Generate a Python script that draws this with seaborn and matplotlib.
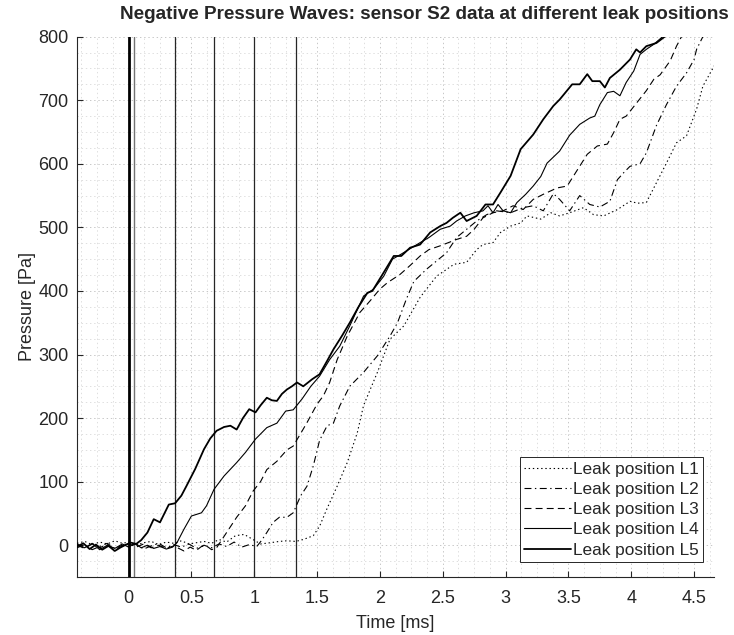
import numpy as np
import pandas as pd
import matplotlib
matplotlib.use("Agg")
import matplotlib.pyplot as plt
from matplotlib.ticker import MultipleLocator, FuncFormatter
import seaborn as sns

# Sensor S2 pressure traces [ms, Pa] for the five leak positions
t_l1 = [-0.41, -0.35, -0.29, -0.23, -0.17, -0.11, -0.05, 0.0, 0.06, 0.12, 0.18, 0.24, 0.30, 0.36,
        0.42, 0.48, 0.54, 0.60, 0.66, 0.72, 0.78, 0.85, 0.92, 0.99, 1.05, 1.13, 1.20, 1.26, 1.33,
        1.39, 1.47, 1.52, 1.58, 1.66, 1.74, 1.82, 1.87, 1.98, 2.08, 2.19, 2.32, 2.45, 2.59, 2.69,
        2.77, 2.82, 2.90, 2.96, 3.04, 3.12, 3.17, 3.28, 3.36, 3.43, 3.51, 3.62, 3.70, 3.78, 3.89,
        3.99, 4.05, 4.12, 4.20, 4.28, 4.36, 4.44, 4.52, 4.57, 4.66]
p_l1 = [3, 6, 1, 5, 2, 7, 3, 5, 0, 4, 6, 1, 5, 3,
        7, 2, 4, 6, 3, 9, 5, 15, 17, 9, 2, 4, 6, 7, 6,
        9, 15, 30, 58, 93, 130, 177, 220, 272, 324, 345, 390, 423, 442, 445,
        465, 473, 476, 492, 502, 507, 518, 513, 523, 518, 523, 531, 520, 518, 528,
        541, 538, 539, 570, 601, 633, 644, 686, 722, 754]

t_l2 = [-0.41, -0.35, -0.29, -0.23, -0.17, -0.11, -0.05, 0.0, 0.06, 0.12, 0.18, 0.24, 0.30, 0.36,
        0.42, 0.48, 0.54, 0.60, 0.66, 0.72, 0.78, 0.84, 0.90, 0.96, 1.02, 1.06, 1.10, 1.15, 1.20,
        1.26, 1.31, 1.37, 1.42, 1.47, 1.52, 1.58, 1.63, 1.68, 1.76, 1.87, 1.98, 2.08, 2.14, 2.21,
        2.27, 2.37, 2.45, 2.53, 2.61, 2.69, 2.77, 2.85, 2.93, 3.04, 3.14, 3.22, 3.30, 3.38, 3.43,
        3.51, 3.59, 3.67, 3.75, 3.83, 3.89, 3.94, 3.99, 4.07, 4.12, 4.20, 4.28, 4.36, 4.44, 4.50,
        4.52, 4.57, 4.60]
p_l2 = [-4, 1, -7, -2, 3, -5, 0, -2, 2, -6, -1, 3, -4, 1,
        -3, 2, -5, 0, -4, 2, -2, 5, -3, 1, -2, 8, 20, 36, 44,
        44, 51, 78, 93, 125, 165, 188, 192, 219, 250, 272, 298, 329, 350, 387,
        415, 434, 447, 460, 484, 497, 510, 520, 526, 523, 531, 534, 526, 553, 544,
        526, 550, 536, 532, 541, 575, 586, 596, 600, 617, 660, 693, 722, 743, 764,
        780, 800, 815]

t_l3 = [-0.41, -0.35, -0.29, -0.23, -0.17, -0.11, -0.05, 0.0, 0.06, 0.12, 0.18, 0.24, 0.30, 0.36,
        0.44, 0.49, 0.54, 0.58, 0.62, 0.66, 0.70, 0.78, 0.86, 0.93, 0.99, 1.05, 1.10, 1.18, 1.26,
        1.31, 1.37, 1.42, 1.50, 1.55, 1.60, 1.66, 1.74, 1.84, 1.92, 2.00, 2.06, 2.16, 2.24, 2.32,
        2.39, 2.48, 2.61, 2.69, 2.75, 2.82, 2.90, 2.98, 3.06, 3.14, 3.22, 3.30, 3.41, 3.49, 3.57,
        3.65, 3.73, 3.81, 3.86, 3.91, 3.96, 4.04, 4.12, 4.18, 4.23, 4.31, 4.36, 4.40, 4.44]
p_l3 = [0, -5, 2, -4, 1, -6, -2, 3, -3, 2, -4, 0, -5, -1,
        -9, -3, -8, -2, -1, -7, -4, 20, 44, 62, 85, 100, 119, 132, 150,
        156, 176, 193, 222, 235, 256, 292, 329, 366, 384, 403, 413, 426, 440, 455,
        465, 471, 481, 486, 497, 515, 523, 526, 534, 528, 544, 552, 562, 565, 590,
        615, 628, 631, 649, 670, 675, 695, 715, 733, 740, 762, 785, 800, 815]

t_l4 = [-0.41, -0.35, -0.29, -0.23, -0.17, -0.11, -0.05, 0.0, 0.05, 0.10, 0.15, 0.20, 0.25, 0.30,
        0.35, 0.385, 0.44, 0.50, 0.58, 0.62, 0.68, 0.76, 0.86, 0.93, 1.01, 1.10, 1.18, 1.25, 1.31,
        1.38, 1.45, 1.52, 1.60, 1.68, 1.76, 1.87, 1.95, 2.03, 2.10, 2.17, 2.27, 2.32, 2.39, 2.48,
        2.56, 2.61, 2.68, 2.75, 2.82, 2.86, 2.90, 2.94, 2.98, 3.04, 3.09, 3.16, 3.22, 3.28, 3.33,
        3.43, 3.51, 3.59, 3.67, 3.71, 3.75, 3.81, 3.86, 3.91, 3.96, 4.02, 4.07, 4.12, 4.18, 4.25,
        4.30]
p_l4 = [2, -4, 3, -7, 0, -5, 2, -3, 3, -4, 0, -5, -2, -6,
        -3, 4, 25, 46, 51, 62, 88, 109, 130, 146, 167, 185, 192, 211, 213,
        230, 250, 266, 292, 313, 345, 392, 403, 423, 450, 458, 470, 476, 484, 497,
        502, 510, 518, 523, 526, 534, 523, 536, 526, 523, 539, 552, 565, 580, 601,
        620, 645, 662, 672, 675, 693, 712, 714, 707, 728, 746, 772, 780, 788, 800,
        812]

t_l5 = [-0.41, -0.36, -0.31, -0.26, -0.21, -0.16, -0.11, -0.06, -0.02, 0.02, 0.06, 0.10, 0.15, 0.20,
        0.25, 0.32, 0.37, 0.42, 0.46, 0.53, 0.60, 0.65, 0.70, 0.76, 0.81, 0.86, 0.91, 0.96, 1.01,
        1.05, 1.10, 1.14, 1.18, 1.22, 1.26, 1.30, 1.34, 1.39, 1.46, 1.52, 1.58, 1.63, 1.70, 1.76,
        1.83, 1.90, 1.94, 2.03, 2.11, 2.17, 2.24, 2.32, 2.40, 2.48, 2.53, 2.58, 2.64, 2.69, 2.77,
        2.84, 2.90, 2.96, 3.04, 3.12, 3.22, 3.30, 3.38, 3.43, 3.53, 3.59, 3.65, 3.69, 3.75, 3.79,
        3.83, 3.91, 3.99, 4.04, 4.07, 4.12, 4.20, 4.28, 4.32]
p_l5 = [-2, 3, -6, 1, -7, -1, -9, -3, 1, 4, 2, 8, 20, 41,
        36, 64, 66, 78, 93, 120, 151, 168, 180, 186, 188, 182, 200, 214, 209,
        220, 232, 228, 227, 238, 245, 250, 256, 250, 261, 269, 290, 308, 330, 350,
        375, 397, 400, 429, 455, 455, 468, 473, 492, 502, 507, 515, 523, 510, 518,
        536, 536, 555, 581, 623, 646, 670, 691, 701, 725, 725, 741, 730, 730, 720,
        735, 748, 764, 780, 775, 785, 790, 802, 815]

# arrival markers (vertical lines) [ms]
marker_t = [0.0, 0.04, 0.366, 0.682, 1.0, 1.33]

labels = ["Leak position L1", "Leak position L2", "Leak position L3",
          "Leak position L4", "Leak position L5"]
series = [(t_l1, p_l1), (t_l2, p_l2), (t_l3, p_l3), (t_l4, p_l4), (t_l5, p_l5)]

df = pd.concat([pd.DataFrame({"t": t, "p": p, "leak": lab})
                for (t, p), lab in zip(series, labels)], ignore_index=True)

sns.set_theme(style="white")
plt.rcParams["font.family"] = ["Liberation Sans", "DejaVu Sans"]
plt.rcParams["lines.scale_dashes"] = False

fig = plt.figure(figsize=(7.34, 6.35), dpi=100)
ax = fig.add_axes([0.105, 0.0913, 0.868, 0.851])

# vertical markers
for i, xv in enumerate(marker_t):
    if i == 0:
        ax.axvline(xv, color="black", lw=2.0, zorder=2)
    elif i == 1:
        ax.axvline(xv, color="0.45", lw=1.0, zorder=2)
    else:
        ax.axvline(xv, color="0.15", lw=0.9, zorder=2)

dash_styles = [(1, 2), (5, 2.5, 1, 2.5), (5, 3), "", ""]
widths = [0.8, 0.8, 0.8, 0.8, 1.3]
for lab, ds, lw in zip(labels, dash_styles, widths):
    sub = df[df["leak"] == lab]
    line = sns.lineplot(data=sub, x="t", y="p", ax=ax, color="black", lw=lw,
                        label=lab, sort=False, estimator=None, zorder=3).lines[-1]
    if ds:
        line.set_dashes(ds)

ax.set_xlim(-0.41, 4.66)
ax.set_ylim(-50, 800)
ax.xaxis.set_major_locator(MultipleLocator(0.5))
ax.xaxis.set_minor_locator(MultipleLocator(0.125))
ax.yaxis.set_major_locator(MultipleLocator(100))
ax.yaxis.set_minor_locator(MultipleLocator(25))
ax.xaxis.set_major_formatter(FuncFormatter(lambda v, _: "%g" % v))

ax.grid(which="major", linestyle=(0, (1, 2)), color="0.78", lw=0.7)
ax.grid(which="minor", linestyle=(0, (1, 2)), color="0.85", lw=0.6)
ax.set_axisbelow(True)

for s in ["top", "right"]:
    ax.spines[s].set_visible(False)
for s in ["left", "bottom"]:
    ax.spines[s].set_color("0.15")
    ax.spines[s].set_linewidth(0.8)
ax.tick_params(axis="x", which="major", pad=9)
ax.tick_params(axis="y", which="major", pad=6)
ax.tick_params(which="major", direction="in", length=4, width=0.8, color="0.15",
               labelsize=13, labelcolor="0.15", left=True, bottom=True)
ax.tick_params(which="minor", length=0)

ax.set_xlabel("Time [ms]", fontsize=13, color="0.15", labelpad=6)
ax.set_ylabel("Pressure [Pa]", fontsize=13, color="0.15", labelpad=2)
ax.set_title("Negative Pressure Waves: sensor S2 data at different leak positions",
             fontsize=13.6, fontweight="bold", pad=13, x=0.545)

leg = ax.legend(loc="lower right", bbox_to_anchor=(0.983, 0.028), fontsize=12.4,
                frameon=True, fancybox=False, framealpha=1, edgecolor="0.15",
                handlelength=2.7, handletextpad=0.15, labelspacing=0.3,
                borderpad=0.25, borderaxespad=0)
leg.get_frame().set_linewidth(0.7)

fig.savefig("out.png", dpi=100)
